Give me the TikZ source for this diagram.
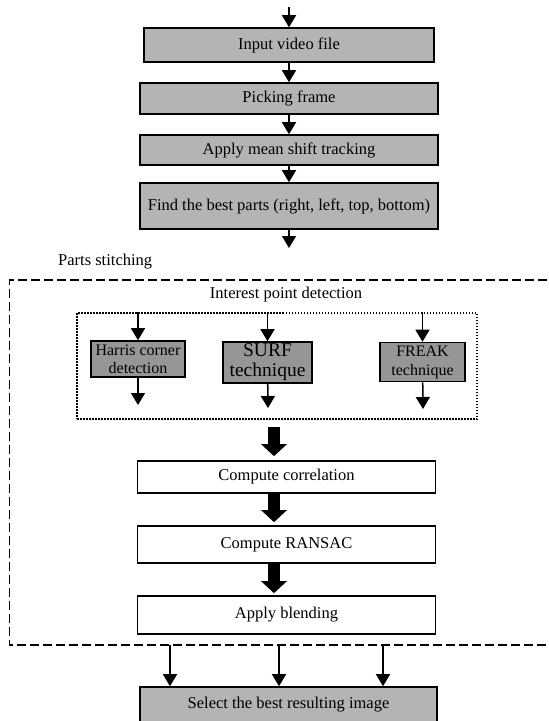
\documentclass[tikz,border=0pt]{standalone}
\usepackage{fontspec}
\setmainfont{Liberation Serif}
\usetikzlibrary{arrows.meta}
\definecolor{boxgray}{RGB}{180,180,180}
\definecolor{techgray}{RGB}{150,150,150}
\tikzset{
graybox/.style={rectangle, draw, line width=1.6pt, fill=boxgray, inner sep=0pt, minimum width=298pt, font=\fontsize{16.5}{19}\selectfont},
whitebox/.style={graybox, fill=white},
techbox/.style={rectangle, draw, line width=1.6pt, fill=techgray, inner sep=0pt, align=center},
dotbox/.style={rectangle, draw, line width=1.5pt, dash pattern=on 1.5pt off 1.5pt, inner sep=0pt},
plain/.style={inner sep=0pt, font=\fontsize{16.5}{19}\selectfont},
arr/.style={line width=1.5pt, -{Triangle[width=14pt,length=12pt]}},
bigarr/.style={line width=12pt, -{Triangle[width=25pt,length=12pt]}}
}

\begin{document}
\begin{tikzpicture}[x=1pt, y=-1pt]
\useasboundingbox (0,0) rectangle (549,721);
\clip (0,0) rectangle (549,721);

\node[graybox, minimum width=290pt, minimum height=34pt] (input) at (289,45) {Input video file};
\node[graybox, minimum height=31pt] (pick) at (289,98.5) {Picking frame};
\node[graybox, minimum height=30pt] (track) at (289,150) {Apply mean shift tracking};
\node[graybox, minimum height=46pt] (parts) at (289,206) {Find the best parts (right, left, top, bottom)};

\node[plain, anchor=west] (stitch) at (58,262) {Parts stitching};
\node[plain] (ipdlabel) at (286,295) {Interest point detection};
\node[dotbox, minimum width=400pt, minimum height=106pt] (ipd) at (277,366) {};

\node[techbox, minimum width=94pt, minimum height=36pt, font=\fontsize{16}{18}\selectfont] (harris) at (138,359) {Harris corner\\detection};
\node[techbox, minimum width=89pt, minimum height=41pt, font=\fontsize{19.5}{20}\selectfont] (surf) at (267.5,362.5) {SURF\\technique};
\node[techbox, minimum width=85pt, minimum height=39pt, font=\fontsize{16}{19}\selectfont] (freak) at (422.5,362) {FREAK\\technique};

\node[whitebox, minimum height=32pt] (corr) at (286.5,477) {Compute correlation};
\node[whitebox, minimum height=37pt] (ransac) at (286.5,544.5) {Compute RANSAC};
\node[whitebox, minimum height=38pt] (blend) at (286.5,615) {Apply blending};

\node[graybox, minimum width=297pt, minimum height=36pt] (select) at (288.5,705) {Select the best resulting image};

\coordinate (top) at (289,7);
\coordinate (partsout) at (289,248);
\coordinate (hout) at (138,405);
\coordinate (sout) at (268,408);
\coordinate (fout) at (423,409);
\coordinate (t1) at (274,427);
\coordinate (b1) at (170,645);
\coordinate (b2) at (279,645);
\coordinate (b3) at (383,645);

\draw[line width=1.6pt, dash pattern=on 9pt off 4pt] (560,280) -- (9.5,280) -- (9.5,645) -- (560,645);

\draw[arr] (top) -- (input);
\draw[arr] (input) -- (pick);
\draw[arr] (pick) -- (track);
\draw[arr] (track) -- (parts);
\draw[arr] (parts) -- (partsout);

\draw[arr] (harris |- ipd.north) -- (harris);
\draw[arr] (surf |- ipd.north) -- (surf);
\draw[arr] (freak |- ipd.north) -- (freak);
\draw[arr] (harris) -- (hout);
\draw[arr] (surf) -- (sout);
\draw[arr] (freak) -- (fout);

\draw[bigarr, shorten >=4pt] (t1) -- (t1 |- corr.north);
\draw[bigarr, shorten >=3pt] (corr.south -| t1) -- (ransac.north -| t1);
\draw[bigarr, shorten >=2pt] (ransac.south -| t1) -- (blend.north -| t1);

\draw[arr] (b1) -- (select.north -| b1);
\draw[arr] (b2) -- (select.north -| b2);
\draw[arr] (b3) -- (select.north -| b3);

\end{tikzpicture}
\end{document}
